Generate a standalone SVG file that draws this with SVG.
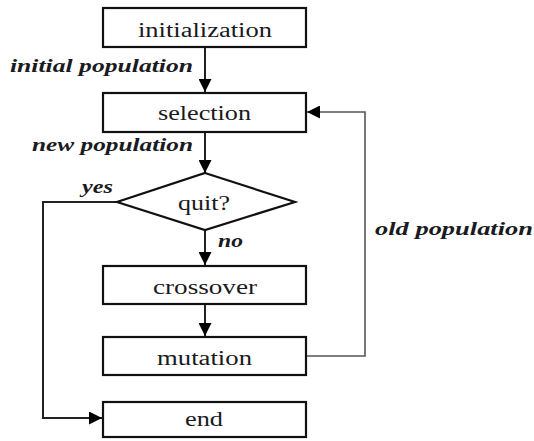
<svg xmlns="http://www.w3.org/2000/svg" width="534" height="441" viewBox="0 0 534 441">
<style>
.box{fill:#fff;stroke:#111;stroke-width:2.2}
.lbl{font-family:"Liberation Serif","DejaVu Serif",serif;font-size:20px;fill:#1a1a22}
.it{font-family:"Liberation Serif","DejaVu Serif",serif;font-size:19px;font-style:italic;font-weight:bold;fill:#1a1a22}
.ln{fill:none;stroke:#222;stroke-width:2}
.ln2{fill:none;stroke:#555;stroke-width:1.6}
</style>
<defs>
<marker id="ah" viewBox="0 0 10 10" refX="10" refY="5" markerWidth="13" markerHeight="13" markerUnits="userSpaceOnUse" orient="auto">
<path d="M0,0 L10,5 L0,10 z" fill="#000"/>
</marker>
</defs>
<rect width="534" height="441" fill="#fff"/>
<g id="connectors">
<line class="ln" x1="205" y1="47" x2="205" y2="92" marker-end="url(#ah)"/>
<line class="ln" x1="205" y1="132" x2="205" y2="173" marker-end="url(#ah)"/>
<line class="ln" x1="205" y1="230" x2="205" y2="265" marker-end="url(#ah)"/>
<line class="ln" x1="205" y1="304" x2="205" y2="336" marker-end="url(#ah)"/>
<path class="ln2" d="M306,356 H365 V112 H307" marker-end="url(#ah)"/>
<path class="ln" d="M117,202 H43 V418 H102" marker-end="url(#ah)"/>
<text class="it" x="10" y="72" textLength="183" lengthAdjust="spacingAndGlyphs">initial population</text>
<text class="it" x="32" y="151" textLength="161" lengthAdjust="spacingAndGlyphs">new population</text>
<text class="it" x="82" y="193" textLength="31" lengthAdjust="spacingAndGlyphs">yes</text>
<text class="it" x="218" y="247" textLength="25" lengthAdjust="spacingAndGlyphs">no</text>
<text class="it" x="375" y="235" textLength="158" lengthAdjust="spacingAndGlyphs">old population</text>
</g>
<g id="initialization">
<rect class="box" x="103" y="8" width="203" height="39"/>
<text class="lbl" x="138" y="37" textLength="134" lengthAdjust="spacingAndGlyphs">initialization</text>
</g>
<g id="selection">
<rect class="box" x="103" y="93" width="203" height="39"/>
<text class="lbl" x="158" y="120" textLength="93" lengthAdjust="spacingAndGlyphs">selection</text>
</g>
<g id="quit">
<polygon class="box" points="205,173 295,202 205,230 117,202"/>
<text class="lbl" x="178" y="210" textLength="52" lengthAdjust="spacingAndGlyphs">quit?</text>
</g>
<g id="crossover">
<rect class="box" x="103" y="266" width="203" height="38"/>
<text class="lbl" x="153" y="294" textLength="104" lengthAdjust="spacingAndGlyphs">crossover</text>
</g>
<g id="mutation">
<rect class="box" x="103" y="337" width="203" height="38"/>
<text class="lbl" x="157" y="365" textLength="95" lengthAdjust="spacingAndGlyphs">mutation</text>
</g>
<g id="end">
<rect class="box" x="103" y="402" width="203" height="35"/>
<text class="lbl" x="185" y="426" textLength="38" lengthAdjust="spacingAndGlyphs">end</text>
</g>
</svg>
